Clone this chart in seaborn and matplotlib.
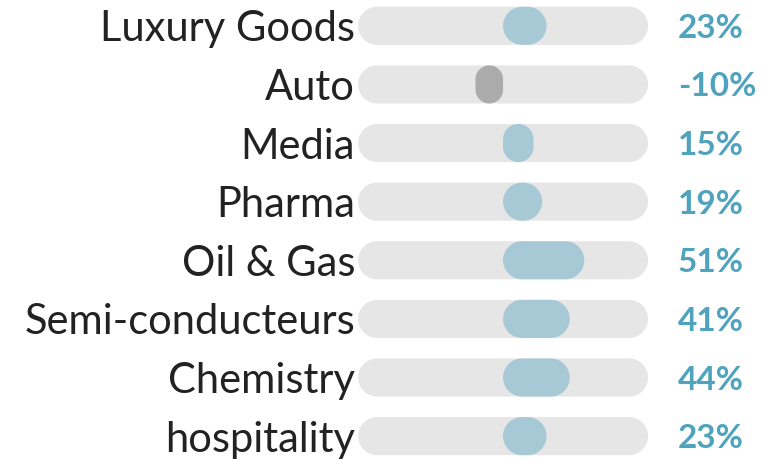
"""
Sector performance pill chart.
"""

import numpy as np
import matplotlib
matplotlib.use("Agg")
import matplotlib.pyplot as plt
from matplotlib.patches import Polygon
import pandas as pd
import seaborn as sns


# -----------------------------------
# Data
# -----------------------------------

sectors = [
    "Luxury Goods", "Auto", "Media", "Pharma",
    "Oil & Gas", "Semi-conducteurs", "Chemistry", "hospitality",
]
changes = [23, -10, 15, 19, 51, 41, 44, 23]          # printed labels (%)
bar_lengths = [30, -19, 21, 27, 56, 46, 46, 30]      # bar extent on the -100..100 track
track_range = 100

df = pd.DataFrame({
    "sector": sectors,
    "change": changes,
    "bar": bar_lengths,
})
df["sign"] = ["neg" if v < 0 else "pos" for v in df["bar"]]


# -----------------------------------
# Plot
# -----------------------------------

sns.set_theme(style="white")
plt.rcParams["font.family"] = ["Lato", "DejaVu Sans"]

fig = plt.figure(figsize=(7.64, 4.59), dpi=100)
ax = fig.add_axes([0, 0, 1, 1])

# grey track behind every row
ax.barh(
    range(len(sectors)),
    2 * track_range,
    left=-track_range,
    height=0.65,
    color="#e6e6e6",
)

sns.barplot(
    data=df,
    x="bar",
    y="sector",
    hue="sign",
    palette={"pos": "#a6c9d5", "neg": "#ababab"},
    saturation=1,
    width=0.65,
    dodge=False,
    errorbar=None,
    legend=False,
    orient="h",
    ax=ax,
)

ax.set_xlim(-347, 180)
ax.set_ylim(7.39, -0.44)
ax.axis("off")

# turn the square bars into pills (corner radius = half the short side, in pixels)
xpx = ax.transData.transform((1, 0))[0] - ax.transData.transform((0, 0))[0]
ypx = abs(ax.transData.transform((0, 1))[1] - ax.transData.transform((0, 0))[1])


def pill_vertices(x, y, w, h, n=24):
    r = min(w * xpx, h * ypx) / 2
    rx, ry = r / xpx, r / ypx
    corners = [
        (x + w - rx, y + h - ry, 0),
        (x + rx, y + h - ry, np.pi / 2),
        (x + rx, y + ry, np.pi),
        (x + w - rx, y + ry, 1.5 * np.pi),
    ]
    pts = []
    for cx, cy, a0 in corners:
        t = np.linspace(a0, a0 + np.pi / 2, n)
        pts.append(np.column_stack([cx + rx * np.cos(t), cy + ry * np.sin(t)]))
    return np.vstack(pts)


for p in list(ax.patches):
    x, y = p.get_x(), p.get_y()
    w, h = p.get_width(), p.get_height()
    if w < 0:
        x, w = x + w, -w
    pill = Polygon(
        pill_vertices(x, y, w, h),
        closed=True,
        facecolor=p.get_facecolor(),
        edgecolor="none",
    )
    p.remove()
    ax.add_patch(pill)

for i, (name, val) in enumerate(zip(sectors, changes)):
    ax.text(
        -track_range - 2, i, name,
        ha="right", va="center_baseline",
        fontsize=30, color="#222222",
    )
    ax.text(
        120.7, i, f"{val}%",
        ha="left", va="center_baseline",
        fontsize=24, fontweight="bold", color="#4fa3bd",
    )

fig.savefig("out.png", dpi=100)
plt.close(fig)
